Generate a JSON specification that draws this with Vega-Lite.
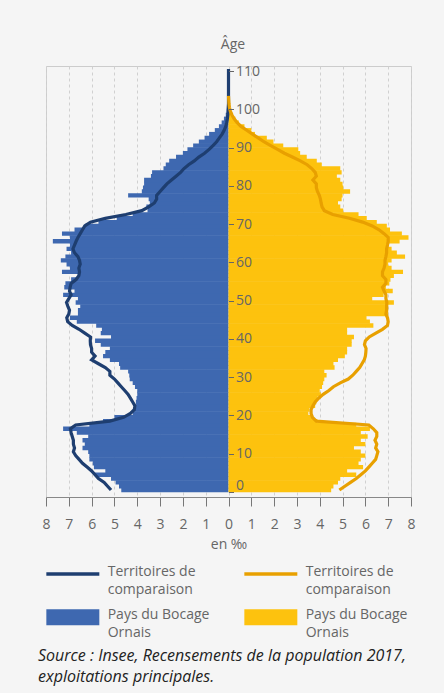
{
"$schema": "https://vega.github.io/schema/vega-lite/v6.json",
"width": 365, "height": 431,
"autosize": {"type": "none"},
"padding": {"left": 46, "top": 66, "right": 33, "bottom": 196},
"background": "#f5f5f5",
"title": {"text": ["Source : Insee, Recensements de la population 2017,", "exploitations principales."], "orient": "bottom", "anchor": "start", "frame": "group", "offset": 7, "dx": -8, "fontSize": 16, "fontStyle": "italic", "fontWeight": "normal", "color": "#222222", "font": "Open Sans", "lineHeight": 21},
"config": {
  "font": "Open Sans",
  "view": {"stroke": "#cccccc"},
  "style": {"guide-label": {"lineHeight": 18}}
},
"data": {"values": [
{"age":0,"h":-4.7,"f":4.5,"hc":-5.15,"fc":4.86},
{"age":1,"h":-4.8,"f":4.6,"hc":-5.3,"fc":5.1},
{"age":2,"h":-4.95,"f":4.8,"hc":-5.45,"fc":5.35},
{"age":3,"h":-5.15,"f":4.9,"hc":-5.7,"fc":5.6},
{"age":4,"h":-5.85,"f":5.6,"hc":-5.85,"fc":5.8},
{"age":5,"h":-5.4,"f":5.2,"hc":-6.0,"fc":6.0},
{"age":6,"h":-5.9,"f":5.9,"hc":-6.2,"fc":6.15},
{"age":7,"h":-5.95,"f":5.7,"hc":-6.4,"fc":6.3},
{"age":8,"h":-6.1,"f":5.8,"hc":-6.55,"fc":6.45},
{"age":9,"h":-6.1,"f":6.0,"hc":-6.7,"fc":6.5},
{"age":10,"h":-6.15,"f":5.8,"hc":-6.8,"fc":6.55},
{"age":11,"h":-6.4,"f":5.5,"hc":-6.75,"fc":6.45},
{"age":12,"h":-6.3,"f":6.0,"hc":-6.8,"fc":6.5},
{"age":13,"h":-6.4,"f":5.8,"hc":-6.8,"fc":6.42},
{"age":14,"h":-6.15,"f":6.1,"hc":-6.85,"fc":6.5},
{"age":15,"h":-6.65,"f":5.8,"hc":-6.9,"fc":6.5},
{"age":16,"h":-7.25,"f":6.2,"hc":-6.93,"fc":6.35},
{"age":17,"h":-6.1,"f":5.6,"hc":-6.7,"fc":6.15},
{"age":18,"h":-5.5,"f":3.9,"hc":-5.2,"fc":3.85},
{"age":19,"h":-5.0,"f":3.7,"hc":-4.6,"fc":3.68},
{"age":20,"h":-4.2,"f":3.5,"hc":-4.3,"fc":3.62},
{"age":21,"h":-4.1,"f":3.55,"hc":-4.13,"fc":3.62},
{"age":22,"h":-4.05,"f":3.8,"hc":-4.1,"fc":3.7},
{"age":23,"h":-4.06,"f":3.85,"hc":-4.2,"fc":3.8},
{"age":24,"h":-4.03,"f":3.9,"hc":-4.3,"fc":3.95},
{"age":25,"h":-4.0,"f":4.05,"hc":-4.4,"fc":4.15},
{"age":26,"h":-4.0,"f":4.0,"hc":-4.55,"fc":4.4},
{"age":27,"h":-4.1,"f":4.1,"hc":-4.7,"fc":4.6},
{"age":28,"h":-4.2,"f":4.15,"hc":-4.85,"fc":4.9},
{"age":29,"h":-4.33,"f":4.2,"hc":-5.0,"fc":5.25},
{"age":30,"h":-4.35,"f":4.3,"hc":-5.2,"fc":5.45},
{"age":31,"h":-4.4,"f":4.2,"hc":-5.2,"fc":5.6},
{"age":32,"h":-4.75,"f":4.65,"hc":-5.4,"fc":5.75},
{"age":33,"h":-4.8,"f":4.6,"hc":-5.7,"fc":5.85},
{"age":34,"h":-5.2,"f":4.8,"hc":-6.0,"fc":5.95},
{"age":35,"h":-5.5,"f":5.1,"hc":-5.85,"fc":6.0},
{"age":36,"h":-5.4,"f":5.2,"hc":-6.0,"fc":6.02},
{"age":37,"h":-5.2,"f":5.2,"hc":-6.0,"fc":6.03},
{"age":38,"h":-5.6,"f":5.4,"hc":-6.05,"fc":5.96},
{"age":39,"h":-5.85,"f":5.4,"hc":-6.06,"fc":6.0},
{"age":40,"h":-5.15,"f":5.5,"hc":-6.05,"fc":6.17},
{"age":41,"h":-5.6,"f":5.2,"hc":-6.3,"fc":6.46},
{"age":42,"h":-5.55,"f":5.2,"hc":-6.55,"fc":6.75},
{"age":43,"h":-5.8,"f":6.35,"hc":-6.85,"fc":6.97},
{"age":44,"h":-6.65,"f":6.2,"hc":-7.05,"fc":7.0},
{"age":45,"h":-6.95,"f":6.05,"hc":-7.09,"fc":6.97},
{"age":46,"h":-6.6,"f":7.0,"hc":-7.0,"fc":6.9},
{"age":47,"h":-6.6,"f":7.0,"hc":-6.97,"fc":6.93},
{"age":48,"h":-6.5,"f":7.0,"hc":-7.04,"fc":6.93},
{"age":49,"h":-6.7,"f":7.25,"hc":-7.1,"fc":6.94},
{"age":50,"h":-6.6,"f":6.3,"hc":-7.0,"fc":6.9},
{"age":51,"h":-7.25,"f":6.8,"hc":-6.9,"fc":6.9},
{"age":52,"h":-6.75,"f":7.2,"hc":-6.97,"fc":6.82},
{"age":53,"h":-7.2,"f":6.9,"hc":-6.94,"fc":6.75},
{"age":54,"h":-7.15,"f":7.05,"hc":-6.9,"fc":6.9},
{"age":55,"h":-6.9,"f":7.1,"hc":-6.68,"fc":6.9},
{"age":56,"h":-6.6,"f":7.25,"hc":-6.56,"fc":6.75},
{"age":57,"h":-7.3,"f":7.65,"hc":-6.53,"fc":6.75},
{"age":58,"h":-6.95,"f":7.15,"hc":-6.56,"fc":6.82},
{"age":59,"h":-7.1,"f":7.0,"hc":-6.5,"fc":6.86},
{"age":60,"h":-7.35,"f":7.15,"hc":-6.53,"fc":6.86},
{"age":61,"h":-7.15,"f":7.74,"hc":-6.6,"fc":6.9},
{"age":62,"h":-6.9,"f":7.38,"hc":-6.75,"fc":6.93},
{"age":63,"h":-7.1,"f":7.15,"hc":-6.82,"fc":6.93},
{"age":64,"h":-6.95,"f":7.0,"hc":-6.75,"fc":6.97},
{"age":65,"h":-7.7,"f":7.5,"hc":-6.68,"fc":7.0},
{"age":66,"h":-6.95,"f":7.89,"hc":-6.6,"fc":7.0},
{"age":67,"h":-7.3,"f":7.6,"hc":-6.5,"fc":6.82},
{"age":68,"h":-6.75,"f":7.08,"hc":-6.4,"fc":6.6},
{"age":69,"h":-6.3,"f":6.94,"hc":-6.3,"fc":6.3},
{"age":70,"h":-5.7,"f":6.5,"hc":-6.05,"fc":5.88},
{"age":71,"h":-4.9,"f":6.06,"hc":-5.4,"fc":5.3},
{"age":72,"h":-4.2,"f":5.7,"hc":-4.5,"fc":4.57},
{"age":73,"h":-3.55,"f":5.03,"hc":-3.8,"fc":4.2},
{"age":74,"h":-3.6,"f":4.9,"hc":-3.5,"fc":4.1},
{"age":75,"h":-3.45,"f":4.8,"hc":-3.25,"fc":4.06},
{"age":76,"h":-3.5,"f":4.96,"hc":-3.15,"fc":4.03},
{"age":77,"h":-4.4,"f":5.0,"hc":-3.15,"fc":3.98},
{"age":78,"h":-3.8,"f":5.33,"hc":-3.0,"fc":3.9},
{"age":79,"h":-3.75,"f":5.03,"hc":-2.85,"fc":3.85},
{"age":80,"h":-3.7,"f":5.0,"hc":-2.7,"fc":3.85},
{"age":81,"h":-3.7,"f":4.9,"hc":-2.5,"fc":3.7},
{"age":82,"h":-3.4,"f":4.75,"hc":-2.3,"fc":3.85},
{"age":83,"h":-3.35,"f":4.96,"hc":-2.1,"fc":3.8},
{"age":84,"h":-2.85,"f":4.9,"hc":-1.95,"fc":3.65},
{"age":85,"h":-2.75,"f":4.09,"hc":-1.75,"fc":3.45},
{"age":86,"h":-2.6,"f":3.87,"hc":-1.5,"fc":3.15},
{"age":87,"h":-2.3,"f":3.43,"hc":-1.3,"fc":2.8},
{"age":88,"h":-2.0,"f":3.14,"hc":-1.05,"fc":2.45},
{"age":89,"h":-1.8,"f":3.06,"hc":-0.85,"fc":2.15},
{"age":90,"h":-1.55,"f":2.4,"hc":-0.68,"fc":1.85},
{"age":91,"h":-1.3,"f":1.97,"hc":-0.52,"fc":1.55},
{"age":92,"h":-1.05,"f":1.68,"hc":-0.4,"fc":1.3},
{"age":93,"h":-0.85,"f":1.16,"hc":-0.28,"fc":1.05},
{"age":94,"h":-0.6,"f":1.0,"hc":-0.19,"fc":0.8},
{"age":95,"h":-0.42,"f":0.7,"hc":-0.12,"fc":0.55},
{"age":96,"h":-0.3,"f":0.45,"hc":-0.08,"fc":0.38},
{"age":97,"h":-0.2,"f":0.3,"hc":-0.05,"fc":0.25},
{"age":98,"h":-0.12,"f":0.2,"hc":-0.03,"fc":0.15},
{"age":99,"h":-0.07,"f":0.11,"hc":-0.02,"fc":0.08},
{"age":100,"h":-0.05,"f":0.06,"hc":-0.01,"fc":0.04},
{"age":101,"h":-0.03,"f":0.03,"hc":0,"fc":0.02},
{"age":102,"h":-0.02,"f":0.02,"hc":0,"fc":0.01},
{"age":103,"h":-0.01,"f":0.01,"hc":0,"fc":0},
{"age":104,"h":0,"f":0,"hc":0,"fc":null},
{"age":105,"h":0,"f":0,"hc":0,"fc":null},
{"age":106,"h":0,"f":0,"hc":0,"fc":null},
{"age":107,"h":0,"f":0,"hc":0,"fc":null},
{"age":108,"h":0,"f":0,"hc":0,"fc":null},
{"age":109,"h":0,"f":0,"hc":0,"fc":null},
{"age":110,"h":0,"f":0,"hc":0,"fc":null}
]},
"transform": [{"fold": ["hc", "h", "fc", "f"], "as": ["serie", "val"]}],
"encoding": {
  "x": {"field": "val", "type": "quantitative", "stack": null,
    "scale": {"domain": [-8, 8], "nice": false, "zero": false},
    "axis": {"values": [-8,-7,-6,-5,-4,-3,-2,-1,0,1,2,3,4,5,6,7,8], "labelExpr": "abs(datum.value)", "grid": true, "gridDash": [3, 3], "gridColor": "#d0d0d0", "tickSize": 9, "tickColor": "#777777", "domainColor": "#888888", "labelPadding": 11, "labelFontSize": 14, "labelColor": "#666666", "labelFlush": false, "labelOverlap": false, "title": "en ‰", "titleFontWeight": "normal", "titleFontSize": 14, "titleColor": "#666666", "titlePadding": 6, "zindex": 0}},
  "y": {"field": "age", "type": "quantitative",
    "scale": {"domain": [0, 110], "nice": false, "zero": false},
    "axis": {"orient": "right", "offset": -182.5, "values": [0,10,20,30,40,50,60,70,80,90,100,110], "grid": false, "domain": false, "tickSize": 5, "tickColor": "#666666", "labelPadding": 2, "labelFontSize": 14, "labelColor": "#666666", "labelFlush": false, "labelOverlap": false,
      "labelBaseline": {"condition": {"test": "datum.value === 0", "value": "bottom"}, "value": "middle"},
      "title": "Âge", "titleAngle": 0, "titleX": 4, "titleY": -22, "titleAlign": "center", "titleBaseline": "middle", "titleFontWeight": "normal", "titleFontSize": 14, "titleColor": "#666666", "zindex": 1}}
},
"layer": [
{
  "transform": [{"filter": {"field": "serie", "oneOf": ["h", "f"]}}],
  "mark": {"type": "bar", "orient": "horizontal", "size": 4.4, "yOffset": -1.96},
  "encoding": {
    "color": {"field": "serie", "type": "nominal",
      "scale": {"domain": ["hc", "h", "fc", "f"], "range": ["#1e3e70", "#3e68b0", "#e8a000", "#fdc20e"]},
      "legend": {"orient": "none", "legendX": 0, "legendY": 490, "title": null, "columns": 2, "columnPadding": 34, "rowPadding": 2.3, "symbolSize": 1248, "symbolStrokeWidth": 0, "labelOffset": 25.7, "labelFontSize": 14, "labelColor": "#666666", "labelLimit": 300, "labelBaseline": "top",
        "labelExpr": "(datum.value == 'hc' || datum.value == 'fc') ? ['Territoires de', 'comparaison'] : ['Pays du Bocage', 'Ornais']",
        "encode": {
          "symbols": {"update": {"shape": {"signal": "(datum.value == 'hc' || datum.value == 'fc') ? 'M-1,-0.105H2V0.105H-1Z' : 'M-1,-0.453H2V0.453H-1Z'"}, "fill": {"scale": "color", "field": "value"}, "stroke": {"value": "transparent"}, "opacity": {"value": 1}}},
          "labels": {"update": {"dy": {"value": -9}}}
        }}}
  }
},
{
  "transform": [{"filter": {"field": "serie", "oneOf": ["hc", "fc"]}}],
  "mark": {"type": "line", "strokeWidth": 3.2, "yOffset": -1.96, "clip": true},
  "encoding": {
    "order": {"field": "age", "type": "quantitative"},
    "color": {"field": "serie", "type": "nominal",
      "scale": {"domain": ["hc", "h", "fc", "f"], "range": ["#1e3e70", "#3e68b0", "#e8a000", "#fdc20e"]},
      "legend": {"orient": "none", "legendX": 0, "legendY": 490, "title": null, "columns": 2, "columnPadding": 34, "rowPadding": 2.3, "symbolSize": 1248, "symbolStrokeWidth": 0, "labelOffset": 25.7, "labelFontSize": 14, "labelColor": "#666666", "labelLimit": 300, "labelBaseline": "top",
        "labelExpr": "(datum.value == 'hc' || datum.value == 'fc') ? ['Territoires de', 'comparaison'] : ['Pays du Bocage', 'Ornais']",
        "encode": {
          "symbols": {"update": {"shape": {"signal": "(datum.value == 'hc' || datum.value == 'fc') ? 'M-1,-0.105H2V0.105H-1Z' : 'M-1,-0.453H2V0.453H-1Z'"}, "fill": {"scale": "color", "field": "value"}, "stroke": {"value": "transparent"}, "opacity": {"value": 1}}},
          "labels": {"update": {"dy": {"value": -9}}}
        }}}
  }
},
{
  "data": {"values": [{"label": "Hommes"}]},
  "mark": {"type": "text", "align": "left", "baseline": "middle", "fontWeight": "bold", "fontSize": 14, "color": "#595959"},
  "encoding": {
    "x": {"datum": -7.68, "type": "quantitative"},
    "y": {"datum": 105.6, "type": "quantitative"},
    "text": {"field": "label"}
  }
},
{
  "data": {"values": [{"label": "Femmes"}]},
  "mark": {"type": "text", "align": "right", "baseline": "middle", "fontWeight": "bold", "fontSize": 14, "color": "#595959"},
  "encoding": {
    "x": {"datum": 7.62, "type": "quantitative"},
    "y": {"datum": 105.6, "type": "quantitative"},
    "text": {"field": "label"}
  }
}
]
}
